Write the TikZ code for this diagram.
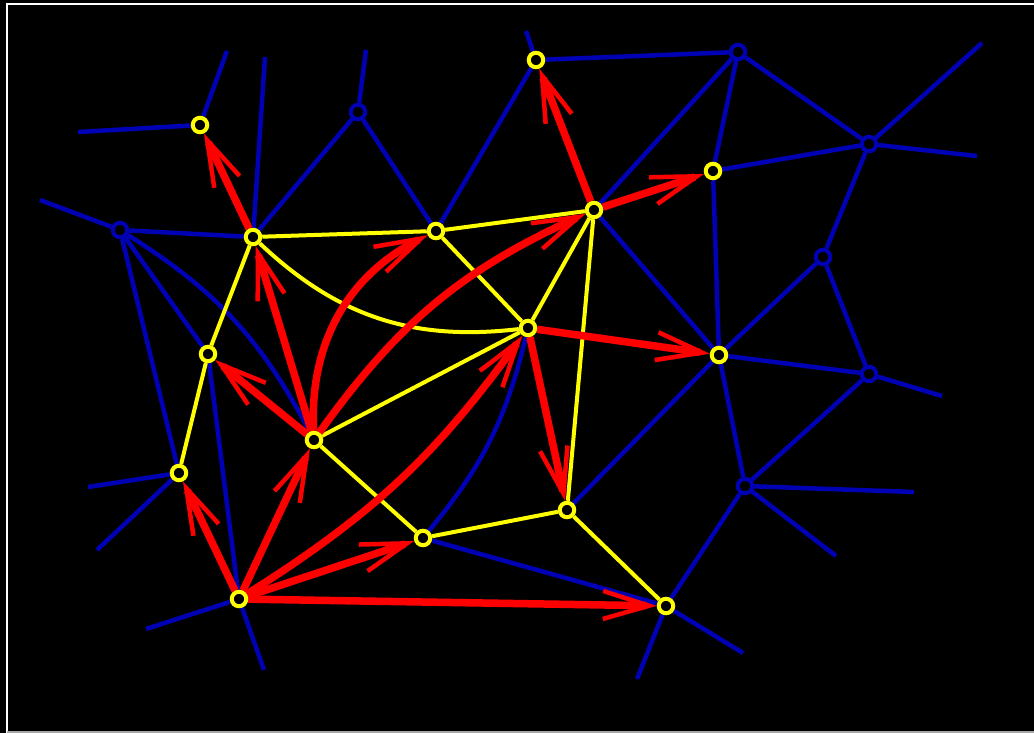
\documentclass[tikz,border=0pt]{standalone}
\usetikzlibrary{arrows.meta, backgrounds}
\definecolor{meshblue}{RGB}{0, 0, 180}
\definecolor{dualyellow}{RGB}{255, 255, 0}
\definecolor{flowred}{RGB}{255, 0, 0}

\begin{document}
\begin{tikzpicture}[x=1pt, y=-1pt,
  ynode/.style={circle, draw=dualyellow, fill=black, line width=4pt, minimum size=14.5pt, inner sep=0pt},
  bnode/.style={circle, draw=meshblue, fill=black, line width=4pt, minimum size=14.5pt, inner sep=0pt},
  bedge/.style={meshblue, line width=4.5pt},
  yedge/.style={dualyellow, line width=4pt},
  redge/.style={flowred, line width=7.5pt, -{Straight Barb[length=46pt, width=28pt, line width=4.5pt]}}]
  \useasboundingbox (0,0) rectangle (1034,733);

  % gelbe Knoten
  \node[ynode] (y1)  at (200,125) {};
  \node[ynode] (y2)  at (253,237) {};
  \node[ynode] (y3)  at (436,231) {};
  \node[ynode] (y4)  at (594,210) {};
  \node[ynode] (y5)  at (536,60)  {};
  \node[ynode] (y6)  at (713,171) {};
  \node[ynode] (y7)  at (528,328) {};
  \node[ynode] (y8)  at (719,355) {};
  \node[ynode] (y9)  at (208,354) {};
  \node[ynode] (y10) at (314,440) {};
  \node[ynode] (y11) at (179,473) {};
  \node[ynode] (y12) at (567,510) {};
  \node[ynode] (y13) at (423,538) {};
  \node[ynode] (y14) at (239,599) {};
  \node[ynode] (y15) at (666,606) {};

  % blaue Knoten
  \node[bnode] (b1) at (120,230) {};
  \node[bnode] (b2) at (358,112) {};
  \node[bnode] (b3) at (738,52)  {};
  \node[bnode] (b4) at (869,144) {};
  \node[bnode] (b5) at (823,257) {};
  \node[bnode] (b6) at (869,374) {};
  \node[bnode] (b7) at (745,486) {};

  % offene Enden
  \coordinate (e1)  at (78,132);
  \coordinate (e2)  at (227,51);
  \coordinate (e3)  at (265,57);
  \coordinate (e4)  at (366,50);
  \coordinate (e5)  at (526,31);
  \coordinate (e6)  at (40,200);
  \coordinate (e7)  at (88,487);
  \coordinate (e8)  at (97,550);
  \coordinate (e9)  at (146,629);
  \coordinate (e10) at (264,670);
  \coordinate (e11) at (637,679);
  \coordinate (e12) at (743,653);
  \coordinate (e13) at (914,492);
  \coordinate (e14) at (836,556);
  \coordinate (e15) at (942,396);
  \coordinate (e16) at (982,43);
  \coordinate (e17) at (977,156);

  \begin{scope}[on background layer]
    % Hintergrund und Rahmen
    \fill[black] (0,0) rectangle (1034,733);
    \draw[white, line width=2pt] (1034,4) -- (7,4) -- (7,733);
    \draw[gray!70, line width=2pt] (7,732) -- (1034,732);

    % blaues Netz
    \draw[bedge] (y1) -- (e1);
    \draw[bedge] (y1) -- (e2);
    \draw[bedge] (y2) -- (e3);
    \draw[bedge] (y2) -- (b2);
    \draw[bedge] (b2) -- (e4);
    \draw[bedge] (b2) -- (y3);
    \draw[bedge] (y3) -- (y5);
    \draw[bedge] (y5) -- (e5);
    \draw[bedge] (y5) -- (b3);
    \draw[bedge] (b3) -- (y4);
    \draw[bedge] (b3) -- (y6);
    \draw[bedge] (b3) -- (b4);
    \draw[bedge] (b4) -- (e16);
    \draw[bedge] (b4) -- (e17);
    \draw[bedge] (b4) -- (y6);
    \draw[bedge] (b4) -- (b5);
    \draw[bedge] (b5) -- (y8);
    \draw[bedge] (b5) -- (b6);
    \draw[bedge] (b6) -- (y8);
    \draw[bedge] (b6) -- (e15);
    \draw[bedge] (b6) -- (b7);
    \draw[bedge] (b7) -- (e13);
    \draw[bedge] (b7) -- (e14);
    \draw[bedge] (b7) -- (y8);
    \draw[bedge] (b7) -- (y15);
    \draw[bedge] (y15) -- (e11);
    \draw[bedge] (y15) -- (e12);
    \draw[bedge] (y15) -- (y13);
    \draw[bedge] (y12) -- (y8);
    \draw[bedge] (y6) -- (y8);
    \draw[bedge] (y4) -- (y8);
    \draw[bedge] (y13) to[bend right=13] (y7);
    \draw[bedge] (b1) -- (e6);
    \draw[bedge] (b1) -- (y2);
    \draw[bedge] (b1) -- (y9);
    \draw[bedge] (b1) -- (y11);
    \draw[bedge] (b1) to[bend left=15] (y10);
    \draw[bedge] (y9) -- (y14);
    \draw[bedge] (y11) -- (e7);
    \draw[bedge] (y11) -- (e8);
    \draw[bedge] (y14) -- (e9);
    \draw[bedge] (y14) -- (e10);

    % gelbe Kanten
    \draw[yedge] (y2) -- (y3);
    \draw[yedge] (y3) -- (y4);
    \draw[yedge] (y2) -- (y9);
    \draw[yedge] (y9) -- (y11);
    \draw[yedge] (y2) to[bend right=25] (y7);
    \draw[yedge] (y3) -- (y7);
    \draw[yedge] (y4) -- (y7);
    \draw[yedge] (y4) -- (y12);
    \draw[yedge] (y7) -- (y10);
    \draw[yedge] (y10) -- (y13);
    \draw[yedge] (y13) -- (y12);
    \draw[yedge] (y12) -- (y15);

    % rote Pfeile
    \draw[redge] (y2) -- (y1);
    \draw[redge] (y4) -- (y5);
    \draw[redge] (y4) -- (y6);
    \draw[redge] (y7) -- (y8);
    \draw[redge] (y7) -- (y12);
    \draw[redge] (y10) -- (y2);
    \draw[redge] (y10) -- (y9);
    \draw[redge] (y10) to[bend left=33] (y3);
    \draw[redge] (y10) to[bend left=15] (y4);
    \draw[redge] (y14) -- (y11);
    \draw[redge] (y14) -- (y10);
    \draw[redge] (y14) to[bend right=11] (y7);
    \draw[redge] (y14) -- (y13);
    \draw[redge] (y14) -- (y15);
  \end{scope}
\end{tikzpicture}
\end{document}
